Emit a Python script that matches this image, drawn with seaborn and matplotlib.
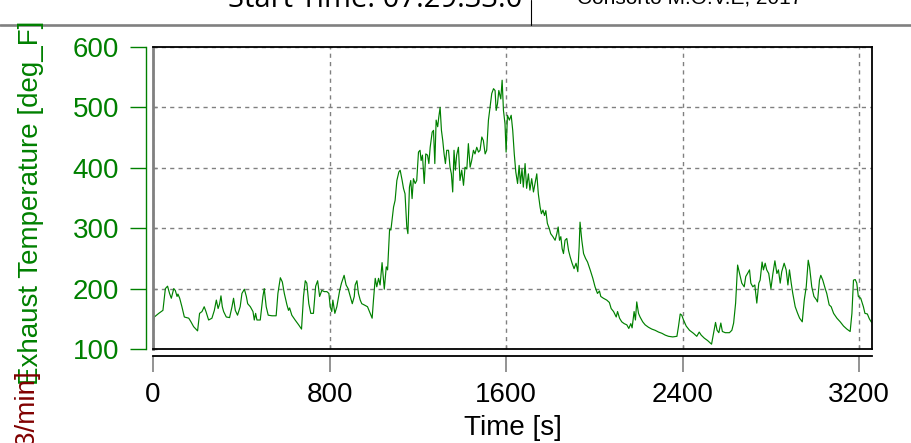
"""
Exhaust temperature trace over one test run (recreated chart)
"""
import matplotlib
matplotlib.use("Agg")
import matplotlib.pyplot as plt
from matplotlib.lines import Line2D
import seaborn as sns

# time axis [s] and exhaust temperature [deg_F]
time_s = [0, 6, 26, 45, 56, 66, 75, 83, 94, 101, 109, 113, 121, 131, 142, 162, 172, 184, 202, 211,
          222, 232, 240, 252, 267, 278, 287, 295, 302, 308, 314, 320, 332, 347, 358, 365, 373, 383, 395, 403,
          414, 423, 429, 441, 453, 459, 465, 471, 486, 498, 504, 513, 522, 539, 558, 566, 577, 586, 595, 607,
          614, 619, 629, 644, 660, 673, 682, 690, 697, 706, 715, 727, 737, 746, 755, 765, 776, 788, 797, 803,
          810, 815, 824, 833, 846, 854, 866, 875, 884, 894, 903, 912, 916, 924, 931, 939, 946, 957, 972, 984,
          993, 999, 1007, 1014, 1022, 1029, 1038, 1048, 1057, 1063, 1072, 1078, 1090, 1097, 1105, 1114, 1120, 1129, 1135, 1142,
          1150, 1155, 1162, 1168, 1174, 1180, 1188, 1195, 1203, 1210, 1215, 1221, 1229, 1236, 1244, 1250, 1256, 1265, 1271, 1277,
          1283, 1290, 1295, 1301, 1307, 1313, 1319, 1325, 1331, 1339, 1346, 1352, 1358, 1364, 1370, 1376, 1384, 1391, 1399, 1407,
          1414, 1422, 1429, 1437, 1444, 1452, 1459, 1467, 1475, 1482, 1490, 1497, 1505, 1512, 1520, 1527, 1535, 1543, 1550, 1555,
          1561, 1567, 1576, 1582, 1588, 1595, 1600, 1606, 1615, 1623, 1630, 1637, 1644, 1652, 1659, 1665, 1672, 1678, 1686, 1693,
          1701, 1708, 1716, 1724, 1731, 1739, 1746, 1754, 1760, 1767, 1774, 1780, 1787, 1796, 1802, 1812, 1822, 1830, 1836, 1842,
          1848, 1854, 1860, 1867, 1875, 1883, 1890, 1899, 1908, 1917, 1925, 1931, 1935, 1943, 1951, 1960, 1969, 1981, 1993, 2003,
          2014, 2023, 2029, 2041, 2056, 2068, 2076, 2087, 2099, 2105, 2114, 2124, 2135, 2147, 2156, 2165, 2171, 2180, 2186, 2192,
          2200, 2207, 2219, 2230, 2245, 2260, 2275, 2291, 2306, 2321, 2336, 2355, 2374, 2381, 2389, 2396, 2404, 2416, 2431, 2449,
          2464, 2475, 2484, 2498, 2513, 2531, 2540, 2549, 2556, 2564, 2573, 2580, 2593, 2612, 2623, 2631, 2640, 2649, 2658, 2668,
          2679, 2686, 2694, 2703, 2709, 2718, 2727, 2736, 2745, 2751, 2760, 2766, 2774, 2781, 2790, 2800, 2809, 2818, 2827, 2834,
          2842, 2849, 2860, 2869, 2877, 2884, 2892, 2899, 2910, 2921, 2930, 2942, 2951, 2960, 2969, 2975, 2985, 2995, 3007, 3011,
          3020, 3026, 3035, 3046, 3053, 3064, 3073, 3084, 3099, 3114, 3129, 3144, 3159, 3167, 3174, 3182, 3189, 3196, 3207, 3219,
          3226, 3237, 3246, 3256]
exhaust_F = [142, 153, 159, 164, 200, 204, 192, 184, 200, 197, 187, 191, 184, 170, 153, 151, 145, 137, 130, 159,
             162, 170, 162, 148, 151, 164, 181, 167, 175, 188, 170, 162, 153, 152, 170, 184, 164, 156, 170, 192,
             199, 187, 175, 170, 162, 148, 159, 148, 148, 187, 200, 170, 156, 155, 155, 192, 218, 211, 192, 173,
             164, 168, 156, 148, 140, 133, 187, 213, 209, 175, 159, 159, 204, 213, 187, 197, 195, 195, 192, 170,
             162, 181, 159, 170, 197, 209, 222, 206, 200, 187, 175, 187, 206, 213, 192, 181, 175, 173, 170, 159,
             151, 181, 217, 203, 217, 206, 243, 199, 236, 231, 298, 297, 335, 346, 379, 393, 396, 379, 366, 357,
             302, 291, 368, 379, 349, 382, 374, 379, 426, 429, 412, 421, 374, 423, 421, 407, 434, 459, 462, 407,
             479, 468, 484, 500, 462, 445, 423, 407, 429, 429, 401, 390, 360, 429, 396, 421, 434, 379, 396, 371,
             401, 398, 440, 401, 412, 429, 423, 434, 426, 429, 451, 445, 423, 429, 479, 500, 523, 531, 528, 495,
             506, 528, 514, 545, 495, 473, 426, 487, 479, 487, 462, 423, 393, 374, 404, 374, 398, 368, 407, 366,
             390, 363, 382, 360, 374, 390, 357, 335, 324, 330, 321, 329, 308, 299, 291, 286, 280, 291, 302, 280,
             286, 266, 258, 280, 283, 263, 253, 242, 233, 242, 228, 269, 310, 280, 258, 250, 244, 231, 217, 203,
             192, 196, 187, 184, 181, 177, 167, 162, 153, 162, 151, 145, 142, 140, 134, 142, 135, 162, 148, 178,
             159, 153, 145, 140, 136, 133, 131, 128, 126, 123, 121, 120, 121, 137, 158, 156, 148, 138, 131, 126,
             121, 128, 123, 118, 114, 108, 126, 144, 131, 127, 143, 129, 127, 127, 131, 143, 176, 239, 225, 209,
             203, 220, 225, 231, 209, 203, 206, 176, 209, 214, 244, 231, 242, 231, 225, 200, 225, 246, 225, 231,
             209, 228, 242, 231, 206, 231, 209, 192, 170, 159, 151, 145, 181, 203, 247, 236, 203, 187, 181, 178,
             214, 222, 214, 200, 192, 173, 170, 159, 151, 145, 138, 133, 129, 159, 214, 215, 209, 187, 184, 170,
             159, 158, 150, 144]

x_ticks = [0, 800, 1600, 2400, 3200]
y_ticks = [100, 200, 300, 400, 500, 600]

sns.set_style("white")
plt.rcParams['font.family'] = ['Liberation Sans', 'DejaVu Sans']
# the white style switches ticks off; turn them back on before axes are made
plt.rcParams['xtick.bottom'] = True
plt.rcParams['ytick.left'] = True
plt.rcParams['xtick.major.size'] = 11.5
plt.rcParams['ytick.major.size'] = 11.5
plt.rcParams['text.color'] = 'black'
plt.rcParams['axes.labelcolor'] = 'black'

green = '#008000'
grey = '#808080'

fig = plt.figure(figsize=(9.11, 4.43), dpi=100)
rect = [153/911, 1 - 349/443, 719/911, 302/443]

# main plotting area with frame, inner ticks and dashed grid
ax = fig.add_axes(rect)
sns.lineplot(x=time_s, y=exhaust_F, ax=ax, color=green, linewidth=0.85)
ax.set_xlim(0, 3258)
ax.set_ylim(100, 600)
ax.set_xticks(x_ticks)
ax.set_yticks(y_ticks)
ax.grid(True, color=grey, linestyle=(0, (3, 3)), linewidth=1)
ax.tick_params(direction='in', length=3, width=1, color=grey, bottom=True, left=True,
               labelbottom=False, labelleft=False)
for s in ['top', 'right', 'bottom']:
    ax.spines[s].set_color('black')
    ax.spines[s].set_linewidth(1.3)
ax.spines['left'].set_color(grey)
ax.spines['left'].set_linewidth(2)
ax.set_xlabel('')
ax.set_ylabel('')

# detached time axis below the plot
ax_x = fig.add_axes(rect)
ax_x.set_xlim(0, 3258)
ax_x.set_xticks(x_ticks)
ax_x.patch.set_visible(False)
for s in ['top', 'right', 'left']:
    ax_x.spines[s].set_visible(False)
ax_x.spines['bottom'].set_position(('outward', 5))
ax_x.spines['bottom'].set_color('black')
ax_x.spines['bottom'].set_linewidth(1.3)
ax_x.set_yticks([])
ax_x.tick_params(axis='x', direction='out', length=11.5, width=1.2, color=grey,
                 bottom=True, labelsize=20, pad=7, labelcolor='black')
ax_x.set_xlabel('Time [s]', fontsize=20, labelpad=5, color='black')

# detached green temperature axis on the left
ax_y = fig.add_axes(rect)
ax_y.set_ylim(100, 600)
ax_y.set_yticks(y_ticks)
ax_y.patch.set_visible(False)
for s in ['top', 'right', 'bottom']:
    ax_y.spines[s].set_visible(False)
ax_y.spines['left'].set_position(('outward', 5))
ax_y.spines['left'].set_color(green)
ax_y.spines['left'].set_linewidth(1)
ax_y.set_xticks([])
ax_y.tick_params(axis='y', direction='out', length=11.5, width=1, color=green,
                 left=True, labelsize=20, pad=8, labelcolor=green)

fig.text(31/911, 1 - 385/443, 'Exhaust Temperature [deg_F]', rotation=90,
         ha='center', va='bottom', color=green, fontsize=20)
fig.text(28/911, 1 - 371/443, 'Air Flow Rate [m3/min]', rotation=90,
         ha='center', va='top', color='#800000', fontsize=20)

# header strip, mostly cut off at the top
fig.add_artist(Line2D([0, 1], [1 - 24.7/443, 1 - 24.7/443], transform=fig.transFigure,
                      color=grey, linewidth=1.9))
fig.add_artist(Line2D([531/911, 531/911], [1 - 24.7/443, 1], transform=fig.transFigure,
                      color='black', linewidth=0.8))
fig.text(522/911, 1 - 7/443, 'Start Time: 07:29:33.0', ha='right', va='baseline',
         fontsize=21, family=['Open Sans', 'DejaVu Sans'], color='black')
fig.text(577/911, 1 - 4/443, 'Consorto M.O.V.E, 2017', ha='left', va='baseline',
         fontsize=15, color='black')

fig.savefig('out.png', dpi=100)
